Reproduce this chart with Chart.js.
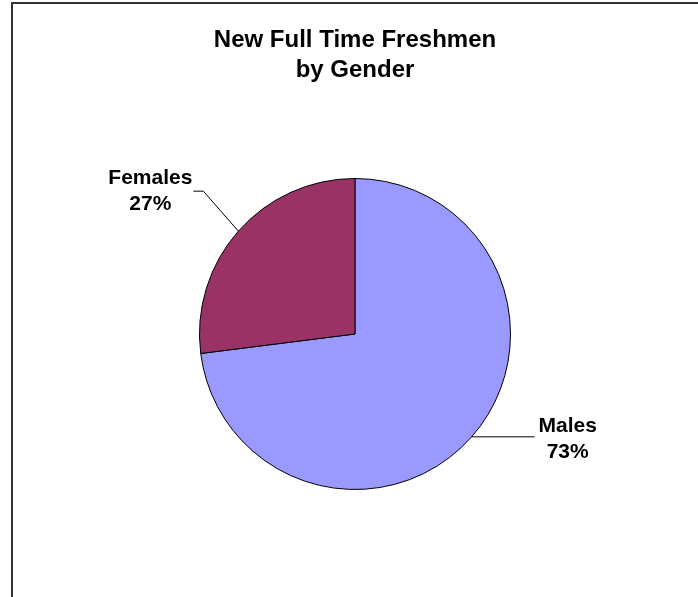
<!DOCTYPE html>
<html>
<head>
<meta charset="utf-8">
<script src="https://cdn.jsdelivr.net/npm/chart.js@4/dist/chart.umd.min.js"></script>
<style>
  html, body { margin: 0; padding: 0; background: #ffffff; }
  #wrap { position: relative; width: 698px; height: 597px; }
</style>
</head>
<body>
<div id="wrap"><canvas id="c" width="698" height="597"></canvas></div>
<script>
const titleLines = ['New Full Time Freshmen', 'by Gender'];
const categories = ['Males', 'Females'];
const values = [73, 27];
const sliceColors = ['#9999FF', '#993366'];

const frame = {
  id: 'frame',
  beforeDraw(chart) {
    const ctx = chart.ctx;
    ctx.save();
    ctx.strokeStyle = '#333333';
    ctx.lineWidth = 2;
    ctx.beginPath();
    ctx.moveTo(12, 700);
    ctx.lineTo(12, 3);
    ctx.lineTo(760, 3);
    ctx.stroke();
    ctx.restore();
  }
};

// leader-line / label layout relative to each slice's mid-edge point
const labelLayout = {
  Males:   { path: [[63, 0]], tx: 96, ty1: -5, ty2: 21 },
  Females: { path: [[-35, -40], [-45, -40]], tx: -88, ty1: -47, ty2: -21 }
};

const sliceLabels = {
  id: 'sliceLabels',
  afterDatasetsDraw(chart) {
    const ctx = chart.ctx;
    const meta = chart.getDatasetMeta(0);
    const data = chart.data.datasets[0].data;
    const total = data.reduce((a, b) => a + b, 0);
    ctx.save();
    meta.data.forEach((arc, i) => {
      const name = chart.data.labels[i];
      const lay = labelLayout[name];
      const p = arc.getProps(['x', 'y', 'startAngle', 'endAngle', 'outerRadius'], true);
      const mid = (p.startAngle + p.endAngle) / 2;
      const ex = p.x + Math.cos(mid) * p.outerRadius;
      const ey = p.y + Math.sin(mid) * p.outerRadius;
      ctx.strokeStyle = '#000000';
      ctx.lineWidth = 1;
      ctx.beginPath();
      ctx.moveTo(ex, ey);
      lay.path.forEach(([dx, dy]) => ctx.lineTo(ex + dx, ey + dy));
      ctx.stroke();
      ctx.fillStyle = '#000000';
      ctx.font = 'bold 21px "Liberation Sans", Arial, sans-serif';
      ctx.textAlign = 'center';
      ctx.textBaseline = 'alphabetic';
      const pct = Math.round(data[i] / total * 100) + '%';
      ctx.fillText(name, ex + lay.tx, ey + lay.ty1);
      ctx.fillText(pct, ex + lay.tx, ey + lay.ty2);
    });
    ctx.restore();
  }
};

new Chart(document.getElementById('c'), {
  type: 'pie',
  data: {
    labels: categories,
    datasets: [{
      data: values,
      backgroundColor: sliceColors,
      borderColor: '#000000',
      borderWidth: 1
    }]
  },
  options: {
    responsive: false,
    animation: false,
    events: [],
    layout: { padding: { left: 100, right: 88, top: 0, bottom: 107 } },
    plugins: {
      legend: { display: false },
      tooltip: { enabled: false },
      title: {
        display: true,
        text: titleLines,
        color: '#000000',
        font: { family: '"Liberation Sans", Arial, sans-serif', size: 24, weight: 'bold', lineHeight: 1.25 },
        padding: { top: 25, bottom: 93 }
      }
    }
  },
  plugins: [frame, sliceLabels]
});
</script>
</body>
</html>
